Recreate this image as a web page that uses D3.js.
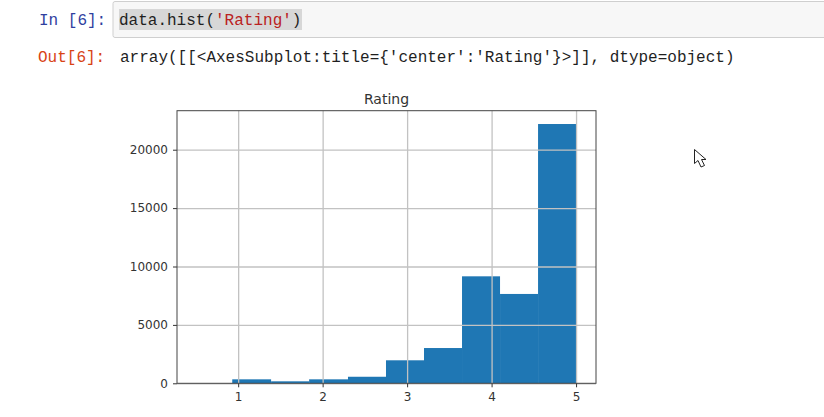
<!DOCTYPE html>
<html>
<head>
<meta charset="utf-8">
<script src="https://cdn.jsdelivr.net/npm/d3@7"></script>
<style>
    html, body { margin: 0; padding: 0; background: #fff; }
    svg { display: block; }
    .code { font-family: "Liberation Mono", monospace; font-size: 16px; }
    .tick text { font-family: "DejaVu Sans", sans-serif; font-size: 12px; fill: #333; }
</style>
</head>
<body>
<svg id="page" width="824" height="417"></svg>
<script>
// histogram bins
var binEdges = [0.93, 1.39, 1.84, 2.3, 2.75, 3.2, 3.65, 4.1, 4.55, 5];
var binCounts = [340, 170, 340, 560, 1970, 3020, 9160, 7650, 22200];
var xTicks = [1, 2, 3, 4, 5];
var yTicks = [0, 5000, 10000, 15000, 20000];

var inputTokens = [["data.hist(", "#1f1f1f"], ["'Rating'", "#ba2121"], [")", "#1f1f1f"]];
var outputText = "array([[<AxesSubplot:title={'center':'Rating'}>]], dtype=object)";

const svg = d3.select("#page");

function drawNotebook() {
    svg.append("rect").attr("x", 113).attr("y", 1.5).attr("width", 720).attr("height", 36)
        .attr("rx", 2).attr("fill", "#f7f7f7").attr("stroke", "#cfcfcf");
    svg.append("rect").attr("x", 119).attr("y", 9).attr("width", 183).attr("height", 21).attr("fill", "#d7d7d7");

    svg.append("text").attr("class", "code").attr("x", 39).attr("y", 25).attr("fill", "#303f9f").text("In [6]:");
    svg.append("text").attr("class", "code").attr("x", 38).attr("y", 62).attr("fill", "#d84315").text("Out[6]:");

    const input = svg.append("text").attr("class", "code").attr("x", 119).attr("y", 25);
    inputTokens.forEach(t => input.append("tspan").attr("fill", t[1]).text(t[0]));

    svg.append("text").attr("class", "code").attr("x", 120).attr("y", 62).attr("fill", "#1f1f1f").text(outputText);
}

function drawHistogram() {
    const left = 177, right = 596, top = 110.7, bottom = 383.3;

    const x = d3.scaleLinear().domain([0.276, 5.236]).range([left, right]);
    const y = d3.scaleLinear().domain([0, 23340]).range([bottom, top]);

    svg.append("g").selectAll("rect").data(binCounts).join("rect")
        .attr("x", (d, i) => x(binEdges[i]))
        .attr("y", d => y(d))
        .attr("width", (d, i) => x(binEdges[i + 1]) - x(binEdges[i]))
        .attr("height", d => y(0) - y(d))
        .attr("fill", "#1f77b4");

    // grid sits on top of the bars, same as matplotlib
    const xGrid = svg.append("g").attr("transform", `translate(0,${bottom})`)
        .call(d3.axisBottom(x).tickValues(xTicks).tickSize(top - bottom).tickFormat(""));
    const yGrid = svg.append("g").attr("transform", `translate(${left},0)`)
        .call(d3.axisLeft(y).tickValues(yTicks).tickSize(left - right).tickFormat(""));
    [xGrid, yGrid].forEach(g => {
        g.select(".domain").remove();
        g.selectAll("line").attr("stroke", "#c2c2c2").attr("stroke-width", 1.3);
    });

    const xAxis = svg.append("g").attr("transform", `translate(0,${bottom})`)
        .call(d3.axisBottom(x).tickValues(xTicks).tickSize(4).tickPadding(5).tickFormat(d3.format("d")));
    const yAxis = svg.append("g").attr("transform", `translate(${left},0)`)
        .call(d3.axisLeft(y).tickValues(yTicks).tickSize(4).tickPadding(5).tickFormat(d3.format("d")));
    [xAxis, yAxis].forEach(g => {
        g.select(".domain").remove();
        g.selectAll("line").attr("stroke", "#333");
    });

    svg.append("rect").attr("x", left).attr("y", top).attr("width", right - left).attr("height", bottom - top)
        .attr("fill", "none").attr("stroke", "#444").attr("stroke-width", 1);

    svg.append("text").attr("x", (left + right) / 2).attr("y", 104).attr("text-anchor", "middle")
        .attr("font-family", "DejaVu Sans").attr("font-size", 14).attr("fill", "#333").text("Rating");
}

// mouse pointer left in the screenshot
function drawCursor() {
    svg.append("path")
        .attr("d", "M694.5,149.5 L694.5,163.5 L698,160.5 L701,167 L704.5,165.5 L701.5,159.5 L706,159.5 Z")
        .attr("fill", "#fff").attr("stroke", "#222").attr("stroke-width", 1);
}

drawNotebook();
drawHistogram();
drawCursor();
</script>
</body>
</html>
